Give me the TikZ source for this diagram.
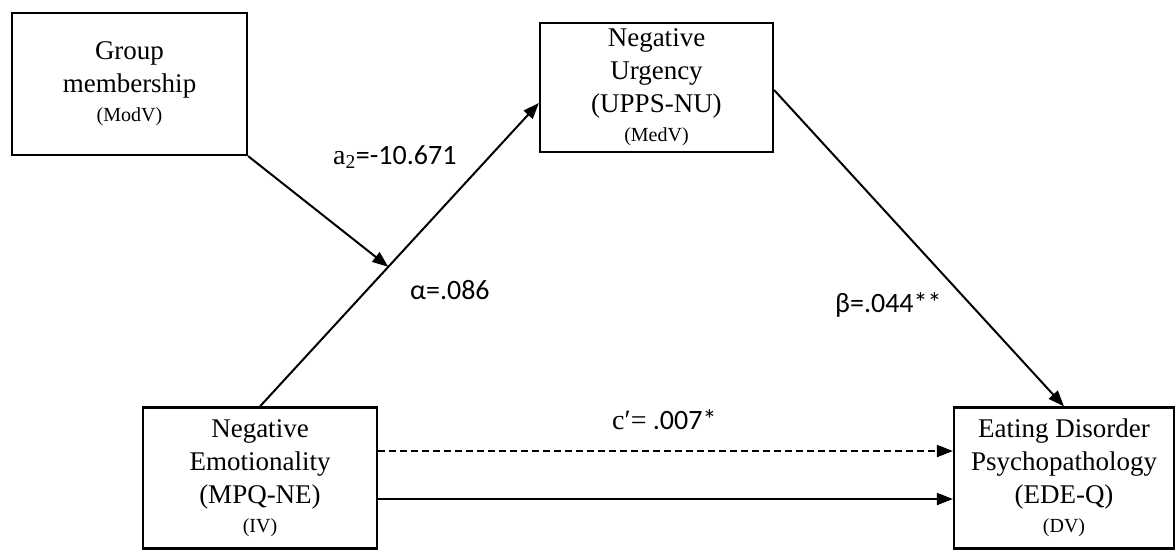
\documentclass[tikz,border=0pt]{standalone}
\usepackage{fontspec}
\setmainfont{Liberation Serif}
\newfontfamily\lblfont{Carlito}
\usetikzlibrary{arrows.meta,calc}
\newcommand{\smalltxt}{\fontsize{20}{24}\selectfont}
\begin{document}
\begin{tikzpicture}[x=1pt,y=-1pt,
 box/.style={draw, line width=2.2pt, align=center, inner sep=0pt, font=\fontsize{27}{33}\selectfont},
 arr/.style={line width=2pt, -{Triangle[length=16pt,width=12pt]}},
 lbl/.style={font=\fontsize{28}{32}\lblfont, inner sep=0pt}]
\useasboundingbox[fill=white] (0,0) rectangle (1176,550);
\node[box, minimum width=235pt, minimum height=142pt] (G) at (129.5,84) {Group\\membership\\[-4pt]{\smalltxt (ModV)}};
\node[box, minimum width=233pt, minimum height=129pt] (U) at (656.5,87.5) {Negative\\Urgency\\(UPPS-NU)\\[-4pt]{\smalltxt (MedV)}};
\node[box, minimum width=234pt, minimum height=141pt] (N) at (260,478) {Negative\\Emotionality\\(MPQ-NE)\\[-4pt]{\smalltxt (IV)}};
\node[box, minimum width=220pt, minimum height=141pt] (D) at (1064,478) {Eating Disorder\\Psychopathology\\(EDE-Q)\\[-4pt]{\smalltxt (DV)}};
\coordinate (ue) at ([yshift=-15.5pt]U.west);
\coordinate (m) at ($(N.north)!0.46!(ue)$);
\draw[arr] (N.north) -- (ue);
\draw[arr] (G.south east) -- (m);
\draw[arr] ([yshift=-2.5pt]U.east) -- (D.north);
\coordinate (d1) at ([yshift=27pt]N.east);
\coordinate (s1) at ([yshift=-21pt]N.east);
\draw[arr, dash pattern=on 7pt off 4pt] (d1) -- (d1 -| D.west);
\draw[arr] (s1) -- (s1 -| D.west);
\node[anchor=west, inner sep=0pt] (la) at (333,157) {\fontsize{28}{32}\selectfont a\textsubscript{2}{\lblfont =-10.671}};
\node[lbl, anchor=west] (lalpha) at (410,290) {α=.086};
\node[lbl, anchor=west] (lbeta) at (835,305) {β=.044**};
\node[anchor=west, inner sep=0pt] (lc) at (612,420) {\fontsize{28}{32}\selectfont c′={\lblfont\ .007*}};
\end{tikzpicture}
\end{document}
